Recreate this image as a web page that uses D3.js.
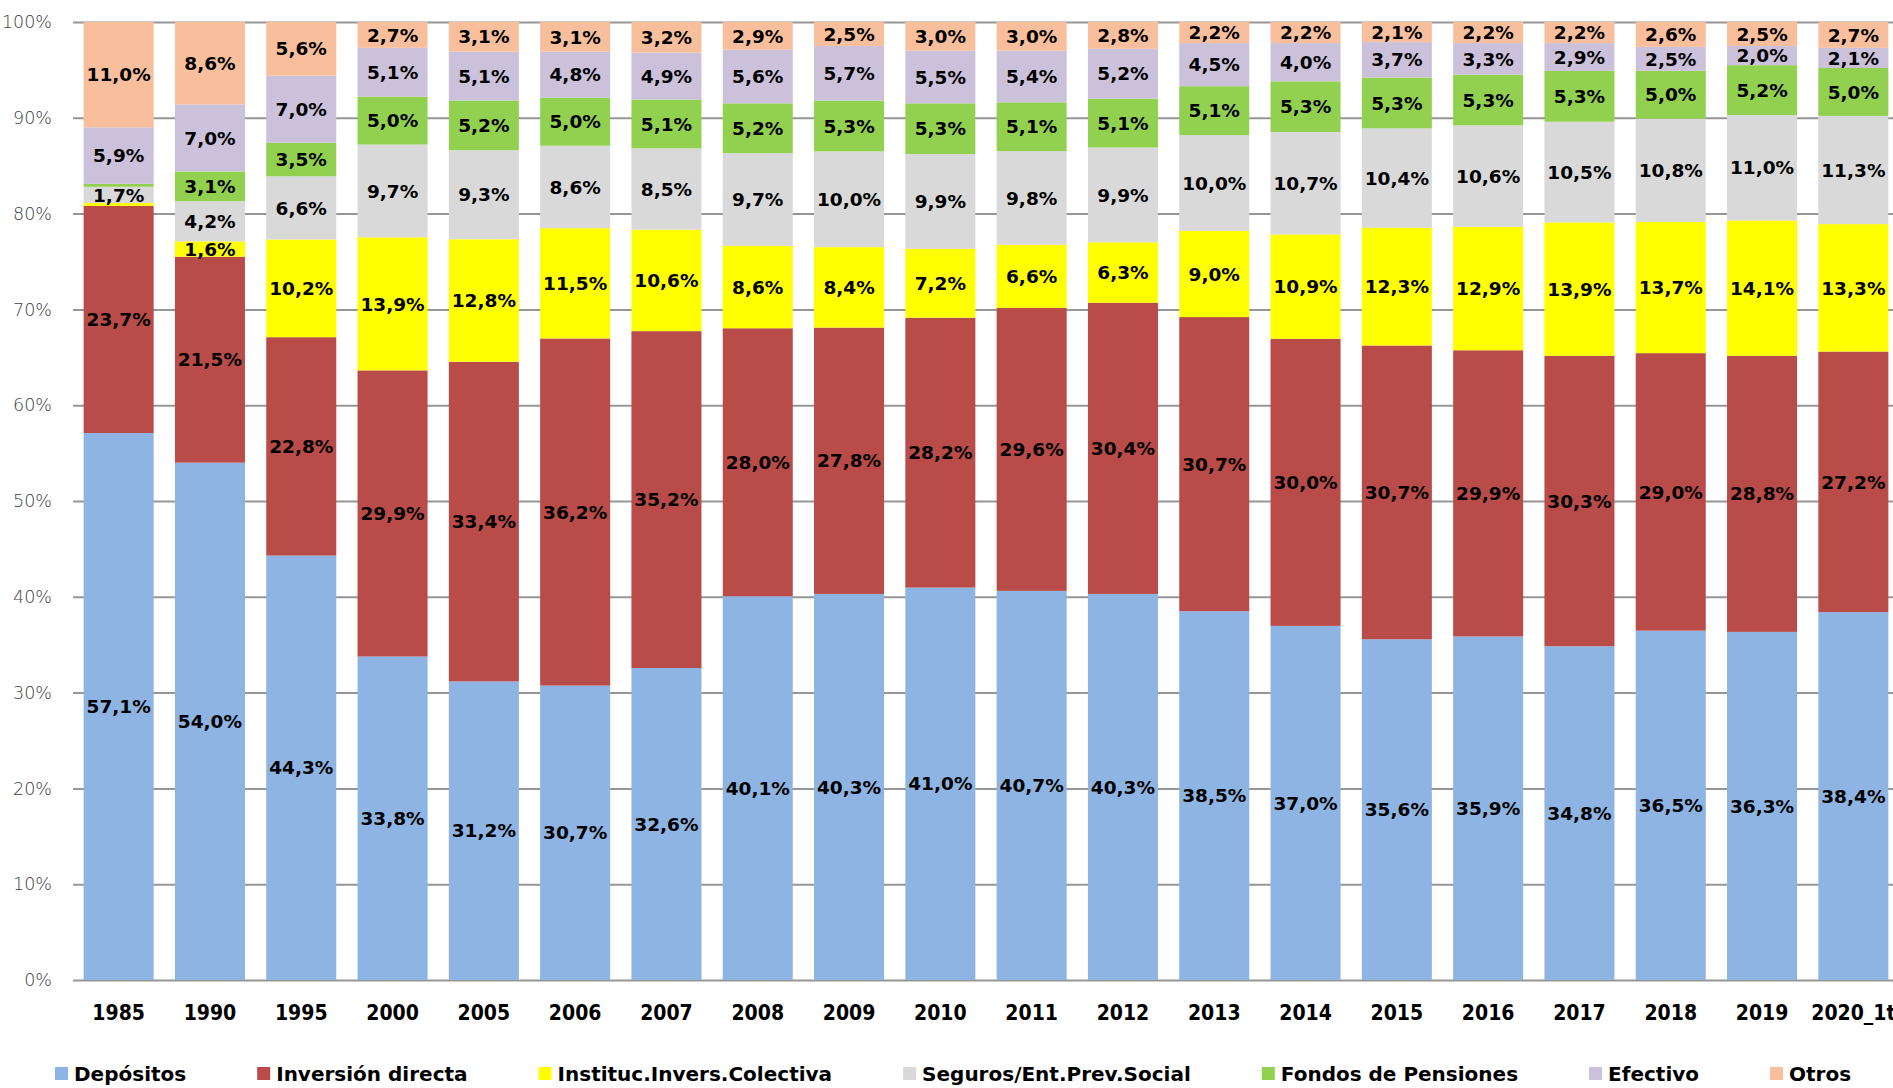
<!DOCTYPE html>
<html>
<head>
<meta charset="utf-8">
<script src="https://cdn.jsdelivr.net/npm/d3@7"></script>
<style>
  html, body { margin: 0; padding: 0; background: #fff; overflow: hidden; }
</style>
</head>
<body>
<div id="chart"></div>
<script>
var years = ['1985', '1990', '1995', '2000', '2005', '2006', '2007', '2008', '2009', '2010',
    '2011', '2012', '2013', '2014', '2015', '2016', '2017', '2018', '2019', '2020_1t'];

var seriesNames = ['Depósitos', 'Inversión directa', 'Instituc.Invers.Colectiva',
    'Seguros/Ent.Prev.Social', 'Fondos de Pensiones', 'Efectivo', 'Otros'];

var depositos = [57.1, 54.0, 44.3, 33.8, 31.2, 30.7, 32.6, 40.1, 40.3, 41.0, 40.7, 40.3, 38.5, 37.0, 35.6, 35.9, 34.8, 36.5, 36.3, 38.4];
var inversionDirecta = [23.7, 21.5, 22.8, 29.9, 33.4, 36.2, 35.2, 28.0, 27.8, 28.2, 29.6, 30.4, 30.7, 30.0, 30.7, 29.9, 30.3, 29.0, 28.8, 27.2];
var institucInvers = [0.3, 1.6, 10.2, 13.9, 12.8, 11.5, 10.6, 8.6, 8.4, 7.2, 6.6, 6.3, 9.0, 10.9, 12.3, 12.9, 13.9, 13.7, 14.1, 13.3];
var seguros = [1.7, 4.2, 6.6, 9.7, 9.3, 8.6, 8.5, 9.7, 10.0, 9.9, 9.8, 9.9, 10.0, 10.7, 10.4, 10.6, 10.5, 10.8, 11.0, 11.3];
var fondosPensiones = [0.3, 3.1, 3.5, 5.0, 5.2, 5.0, 5.1, 5.2, 5.3, 5.3, 5.1, 5.1, 5.1, 5.3, 5.3, 5.3, 5.3, 5.0, 5.2, 5.0];
var efectivo = [5.9, 7.0, 7.0, 5.1, 5.1, 4.8, 4.9, 5.6, 5.7, 5.5, 5.4, 5.2, 4.5, 4.0, 3.7, 3.3, 2.9, 2.5, 2.0, 2.1];
var otros = [11.0, 8.6, 5.6, 2.7, 3.1, 3.1, 3.2, 2.9, 2.5, 3.0, 3.0, 2.8, 2.2, 2.2, 2.1, 2.2, 2.2, 2.6, 2.5, 2.7];

var yTicks = [0, 0.1, 0.2, 0.3, 0.4, 0.5, 0.6, 0.7, 0.8, 0.9, 1];

var colors = ['#8DB4E2', '#B94B49', '#FFFF00', '#D9D9D9', '#92D050', '#CCC1DA', '#F9BF9C'];

var seriesValues = [depositos, inversionDirecta, institucInvers, seguros, fondosPensiones, efectivo, otros];

var width = 1893;
var height = 1088;

// build rows for d3.stack
var rows = years.map(function (y, i) {
    var row = { year: y };
    seriesNames.forEach(function (name, s) {
        row[name] = seriesValues[s][i];
    });
    return row;
});

var stack = d3.stack()
    .keys(seriesNames)
    .offset(d3.stackOffsetExpand);
var layers = stack(rows);

var plotLeft = 73;
var step = 91.3;

var x = d3.scaleBand()
    .domain(years)
    .range([plotLeft, plotLeft + step * years.length])
    .paddingInner(0.233)
    .paddingOuter(0.1165);

var y = d3.scaleLinear()
    .domain([0, 1])
    .range([980, 22]);

var color = d3.scaleOrdinal()
    .domain(seriesNames)
    .range(colors);

var svg = d3.select('#chart')
    .append('svg')
    .attr('width', width)
    .attr('height', height);

// gridlines
var yAxis = d3.axisLeft(y)
    .tickValues(yTicks)
    .tickSize(-(width - plotLeft + 10))
    .tickPadding(21)
    .tickFormat(d3.format('.0%'));

var gy = svg.append('g')
    .attr('transform', 'translate(' + plotLeft + ',0)')
    .call(yAxis);
gy.select('.domain').remove();
gy.selectAll('.tick line')
    .attr('stroke', '#969696')
    .attr('stroke-width', 2);
gy.selectAll('.tick text')
    .attr('fill', '#404040')
    .style('font-family', '"DejaVu Sans", sans-serif')
    .style('font-size', '17.5px')
    .style('font-weight', '300');

// bars
var layerG = svg.append('g')
    .selectAll('g')
    .data(layers)
    .join('g')
    .attr('fill', function (d) { return color(d.key); });

layerG.selectAll('rect')
    .data(function (d) { return d; })
    .join('rect')
    .attr('x', function (d) { return x(d.data.year); })
    .attr('y', function (d) { return y(d[1]); })
    .attr('width', x.bandwidth())
    .attr('height', function (d) { return y(d[0]) - y(d[1]); });

// value labels
var fmt = function (v) { return v.toFixed(1).replace('.', ',') + '%'; };

layers.forEach(function (layer) {
    svg.append('g')
        .selectAll('text')
        .data(layer.filter(function (d) { return d.data[layer.key] >= 1; }))
        .join('text')
        .attr('x', function (d) { return x(d.data.year) + x.bandwidth() / 2; })
        .attr('y', function (d) { return (y(d[0]) + y(d[1])) / 2; })
        .attr('dy', '0.36em')
        .attr('text-anchor', 'middle')
        .style('font-family', '"DejaVu Sans", sans-serif')
        .style('font-size', '18.5px')
        .style('font-weight', 'bold')
        .attr('fill', '#000')
        .text(function (d) { return fmt(d.data[layer.key]); });
});

// x labels (condensed, like the original)
svg.append('g')
    .selectAll('text')
    .data(years)
    .join('text')
    .attr('x', function (d) { return x(d) + x.bandwidth() / 2; })
    .attr('y', 1020)
    .attr('text-anchor', 'middle')
    .style('font-family', '"DejaVu Sans Condensed", "DejaVu Sans", sans-serif')
    .style('font-stretch', 'condensed')
    .style('font-size', '21px')
    .style('font-weight', 'bold')
    .attr('fill', '#000')
    .text(function (d) { return d; });

// legend
var legend = svg.append('g');
var lx = 55;
seriesNames.forEach(function (name) {
    legend.append('rect')
        .attr('x', lx)
        .attr('y', 1067)
        .attr('width', 13)
        .attr('height', 13)
        .attr('fill', color(name));
    var t = legend.append('text')
        .attr('x', lx + 19)
        .attr('y', 1081)
        .style('font-family', '"DejaVu Sans", sans-serif')
        .style('font-size', '20px')
        .style('font-weight', 'bold')
        .attr('fill', '#000')
        .text(name);
    lx += 19 + t.node().getComputedTextLength() + 71;
});
</script>
</body>
</html>
